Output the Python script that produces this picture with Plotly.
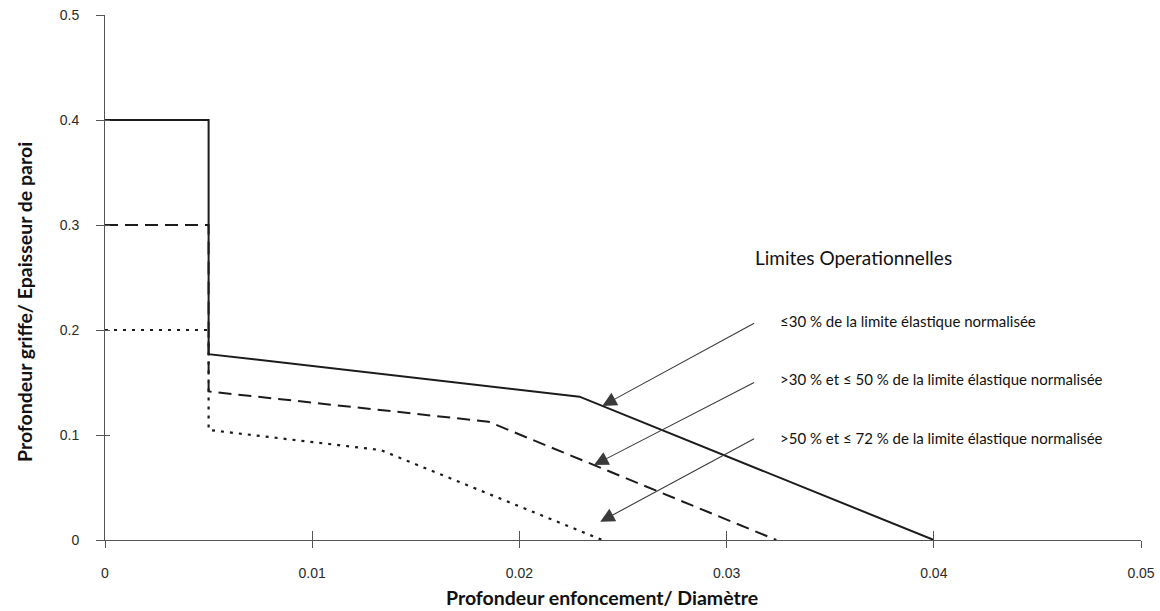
import numpy as np
import plotly.graph_objects as go

# ---- data ----
x_30 = [0.0, 0.005, 0.005, 0.0229, 0.040]
y_30 = [0.400, 0.400, 0.177, 0.1365, 0.0]

x_50 = [0.0, 0.005, 0.005, 0.0185, 0.0324]
y_50 = [0.300, 0.300, 0.1415, 0.1127, 0.0]

x_72 = [0.0, 0.005, 0.005, 0.0133, 0.0240]
y_72 = [0.200, 0.200, 0.1048, 0.0857, 0.0]

x_ticks = [0, 0.01, 0.02, 0.03, 0.04, 0.05]
x_ticklabels = ["0", "0.01", "0.02", "0.03", "0.04", "0.05"]
y_ticks = [0, 0.1, 0.2, 0.3, 0.4, 0.5]
y_ticklabels = ["0", "0.1", "0.2", "0.3", "0.4", "0.5"]

legend_title = "Limites Operationnelles"
labels = [
    "≤30 % de la limite élastique normalisée",
    ">30 % et ≤ 50 % de la limite élastique normalisée",
    ">50 % et ≤ 72 % de la limite élastique normalisée",
]
x_title = "Profondeur enfoncement/ Diamètre"
y_title = "Profondeur griffe/ Epaisseur de paroi"

LINE = "#1c1c1c"
AX = "#555555"
TXT = "#2a2a2a"
CAL = "Lato, 'Open Sans', sans-serif"
ARIAL = "'Liberation Sans', Arial, sans-serif"

fig = go.Figure()
fig.add_trace(go.Scatter(x=x_30, y=y_30, mode="lines", showlegend=False,
                         line=dict(color=LINE, width=2)))
fig.add_trace(go.Scatter(x=x_50, y=y_50, mode="lines", showlegend=False,
                         line=dict(color=LINE, width=2, dash="13px,7px")))
fig.add_trace(go.Scatter(x=x_72, y=y_72, mode="lines", showlegend=False,
                         line=dict(color=LINE, width=2.2, dash="3px,6px")))
# helper trace for the second (inside-tick) axes
fig.add_trace(go.Scatter(x=[], y=[], xaxis="x2", yaxis="y2", showlegend=False))

# arrows: tips on the curves
tail_x = 0.0314
tails_y = [0.2073, 0.1508, 0.0971]
tip1_x = 0.0240
tip1_y = float(np.interp(tip1_x, x_30[2:], y_30[2:]))
tip2_x = 0.0236
tip2_y = float(np.interp(tip2_x, x_50[2:], y_50[2:]))
tip3_x, tip3_y = 0.0239, 0.0174
tips = [(tip1_x, tip1_y), (tip2_x, tip2_y), (tip3_x, tip3_y)]

annotations = []
for (tx, ty), ly in zip(tips, tails_y):
    annotations.append(dict(x=tx, y=ty, ax=tail_x, ay=ly, xref="x", yref="y",
                            axref="x", ayref="y", text="", showarrow=True,
                            arrowhead=2, arrowsize=2.6, arrowwidth=1.1,
                            arrowcolor="#3a3a3a", standoff=0))

annotations.append(dict(x=0.03127, y=0.2686, xref="x", yref="y", text=legend_title,
                        showarrow=False, xanchor="left", yanchor="middle",
                        font=dict(family=CAL, size=19, color="#111111")))
for ly, lab in zip([0.2089, 0.1533, 0.0971], labels):
    annotations.append(dict(x=0.03248, y=ly, xref="x", yref="y", text=lab,
                            showarrow=False, xanchor="left", yanchor="middle",
                            font=dict(family=CAL, size=15, color="#111111")))

# axis titles as annotations (positioned like the reference)
annotations.append(dict(x=0.480, y=-0.1086, xref="paper", yref="paper",
                        text="<b>" + x_title + "</b>", showarrow=False,
                        xanchor="center", yanchor="middle",
                        font=dict(family=CAL, size=19.5, color="#111111")))
annotations.append(dict(x=-0.0782, y=0.4533, xref="paper", yref="paper",
                        text="<b>" + y_title + "</b>", showarrow=False,
                        textangle=-90, xanchor="center", yanchor="middle",
                        font=dict(family=CAL, size=19.5, color="#111111")))

fig.update_layout(
    width=1160, height=611,
    margin=dict(l=105, r=19, t=15, b=71),
    paper_bgcolor="white", plot_bgcolor="white",
    annotations=annotations,
    xaxis=dict(range=[0, 0.05], tickvals=x_ticks, ticktext=x_ticklabels,
               automargin=False,
               showgrid=False, zeroline=False, showline=True, linecolor=AX,
               linewidth=1, ticks="outside", ticklen=7, tickcolor=AX,
               ticklabelstandoff=13,
               tickfont=dict(family=ARIAL, size=14, color=TXT)),
    yaxis=dict(range=[0, 0.5], tickvals=y_ticks, ticktext=y_ticklabels,
               automargin=False,
               showgrid=False, zeroline=False, showline=True, linecolor=AX,
               linewidth=1, ticks="outside", ticklen=8, tickcolor=AX,
               ticklabelstandoff=14,
               tickfont=dict(family=ARIAL, size=14, color=TXT)),
    xaxis2=dict(range=[0, 0.05], overlaying="x", side="bottom", tickvals=x_ticks,
                automargin=False,
                showticklabels=False, showgrid=False, zeroline=False, showline=False,
                ticks="inside", ticklen=9, tickcolor=AX),
    yaxis2=dict(range=[0, 0.5], overlaying="y", side="left", tickvals=y_ticks,
                automargin=False,
                showticklabels=False, showgrid=False, zeroline=False, showline=False,
                ticks="inside", ticklen=5, tickcolor=AX),
)

fig.write_html(
    "out.html",
    config={"displayModeBar": False},
    post_script="document.body.style.margin='0';document.body.style.overflow='hidden';",
)
